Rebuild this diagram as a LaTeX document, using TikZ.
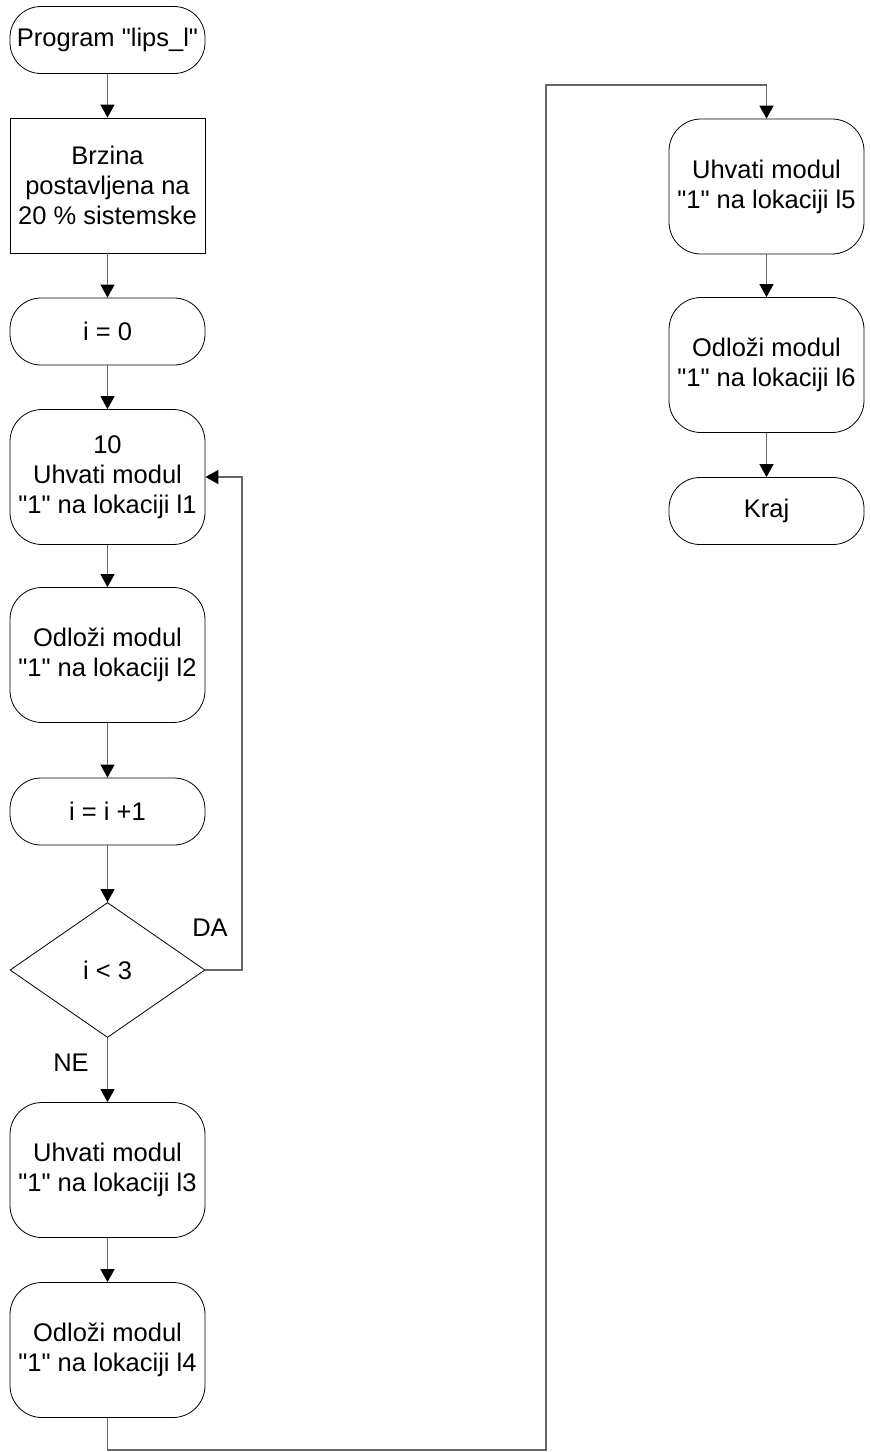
\documentclass[tikz,border=0pt]{standalone}
\usepackage{fontspec}
\setmainfont{Liberation Sans}[Ligatures=TeXOff]
\usetikzlibrary{shapes.geometric,arrows.meta}
\definecolor{conn}{HTML}{666666}
\tikzset{
  txt/.style={font=\fontsize{25.5}{30}\selectfont, align=center, text=black, inner sep=0pt},
  term/.style={txt, draw=black, line width=0.8pt, minimum width=195pt, minimum height=67pt, rounded corners=31pt},
  rbox/.style={txt, draw=black, line width=0.8pt, minimum width=195pt, minimum height=135pt, rounded corners=32pt},
  sbox/.style={txt, draw=black, line width=0.8pt, minimum width=195pt, minimum height=135pt},
  dbox/.style={txt, draw=black, line width=0.8pt, shape=diamond, aspect=1.444, minimum width=195pt, minimum height=135pt},
  lbl/.style={txt},
  flow/.style={draw=conn, line width=1.3pt, -{Triangle[length=13pt,width=14pt,fill=black,color=black]}},
  line/.style={draw=conn, line width=1.3pt}
}
\begin{document}
\begin{tikzpicture}[x=1pt,y=-1pt]
\useasboundingbox (0,0) rectangle (870,1452);
% left column
\node[term] (start) at (107.5,40) {Program "lips\_l"};
\node[sbox] (brz) at (107.5,185.5) {Brzina\\postavljena na\\20 \% sistemske};
\node[term] (i0) at (107.5,331.5) {i = 0};
\node[rbox] (b10) at (107.5,477) {10\\Uhvati modul\\"1" na lokaciji l1};
\node[rbox] (b2) at (107.5,655) {Odloži modul\\"1" na lokaciji l2};
\node[term] (inc) at (107.5,811.5) {i = i +1};
\node[dbox] (dia) at (107.5,970) {i < 3};
\node[rbox] (b3) at (107.5,1170) {Uhvati modul\\"1" na lokaciji l3};
\node[rbox] (b4) at (107.5,1350) {Odloži modul\\"1" na lokaciji l4};
% right column
\node[rbox] (b5) at (766.5,186.5) {Uhvati modul\\"1" na lokaciji l5};
\node[rbox] (b6) at (766.5,365) {Odloži modul\\"1" na lokaciji l6};
\node[term] (kraj) at (766.5,511) {Kraj};
% labels
\node[lbl] (da) at (210,928) {DA};
\node[lbl] (ne) at (71,1063) {NE};
% helper coordinates
\coordinate (fb) at (242,970);
\coordinate (c1) at (546,1450);
\coordinate (c2) at (546,85);
% connectors
\draw[flow] (start) -- (brz);
\draw[flow] (brz) -- (i0);
\draw[flow] (i0) -- (b10);
\draw[flow] (b10) -- (b2);
\draw[flow] (b2) -- (inc);
\draw[flow] (inc) -- (dia);
\draw[flow] (dia.east) -- (fb) |- (b10.east);
\draw[flow] (dia) -- (b3);
\draw[flow] (b3) -- (b4);
\draw[flow] (b4.south) |- (c1) -- (c2) -| (b5.north);
\draw[flow] (b5) -- (b6);
\draw[flow] (b6) -- (kraj);
\end{tikzpicture}
\end{document}
